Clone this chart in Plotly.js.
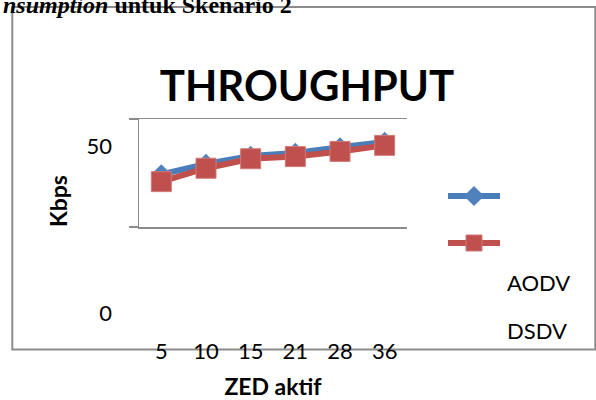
<!DOCTYPE html>
<html><head><meta charset="utf-8">
<script src="https://cdn.plot.ly/plotly-3.0.1.min.js"></script>
<style>html,body{margin:0;padding:0;background:#fff}#chart{width:596px;height:400px}</style>
</head><body><div id="chart"></div>
<script>
const categories = ['5', '10', '15', '21', '28', '36'];
const aodv = [24.4, 29.2, 32.9, 34.3, 36.9, 39.4];
const dsdv = [21.0, 27.2, 31.6, 32.6, 35.0, 37.8];
const seriesNames = ['AODV', 'DSDV'];
const yTickVals = [0, 50];
const yTickText = ['0', '50'];
const chartTitle = 'THROUGHPUT';
const xTitle = 'ZED aktif';
const yTitle = 'Kbps';
const captionItalic = 'nsumption';
const captionRest = ' untuk Skenario 2';

const W = 596, H = 400;
const px = v => v / W, py = v => 1 - v / H;
const BLUE = '#4A7EBB', BLUEF = '#4F81BD', RED = '#C0504D', REDL = '#D27A77', GRAY = '#8c8c8c';
const FONT = 'Lato, "Open Sans", sans-serif';

const blueLine = {color: BLUE, width: 6};
const blueMarker = {symbol: 'diamond', size: 15.5, color: BLUEF, line: {color: BLUEF, width: 0}};
const redLine = {color: RED, width: 6};
const redMarker = {symbol: 'square', size: 20, color: RED, line: {color: REDL, width: 1}};

const traces = [
  {type: 'scatter', mode: 'lines+markers', x: categories, y: aodv, name: seriesNames[0],
   line: blueLine, marker: blueMarker, showlegend: false, cliponaxis: false},
  {type: 'scatter', mode: 'lines+markers', x: categories, y: dsdv, name: seriesNames[1],
   line: redLine, marker: redMarker, showlegend: false, cliponaxis: false},
  {type: 'scatter', mode: 'lines+markers', x: [null], y: [null], name: ' ', legend: 'legend',
   line: blueLine, marker: blueMarker, showlegend: true, hoverinfo: 'skip'},
  {type: 'scatter', mode: 'lines+markers', x: [null], y: [null], name: ' ', legend: 'legend2',
   line: redLine, marker: redMarker, showlegend: true, hoverinfo: 'skip'},
  {type: 'scatter', mode: 'markers', x: [], y: [], yaxis: 'y2', showlegend: false, hoverinfo: 'skip'}
];

const legBase = {bgcolor: 'rgba(0,0,0,0)', borderwidth: 0, xanchor: 'left', yanchor: 'middle',
  itemwidth: 52, font: {family: FONT, size: 12}, itemclick: false, itemdoubleclick: false};

const layout = {
  width: W, height: H,
  margin: {l: 0, r: 0, t: 0, b: 0},
  paper_bgcolor: '#fff', plot_bgcolor: 'rgba(0,0,0,0)',
  font: {family: FONT, color: '#000'},
  title: {text: chartTitle, font: {family: FONT, size: 42, weight: 700, color: '#000'},
          x: px(307), xanchor: 'center', y: py(86), yanchor: 'middle', xref: 'paper', yref: 'paper'},
  xaxis: {type: 'category', domain: [px(139), px(407)], range: [-0.5, 5.5],
          showline: true, mirror: true, linecolor: GRAY, linewidth: 1.5,
          showgrid: false, zeroline: false, ticks: '',
          tickfont: {family: FONT, size: 22, color: '#000'}, ticklabelstandoff: 104,
          title: {text: xTitle, font: {family: FONT, size: 23, weight: 700, color: '#000'}, standoff: 24}},
  yaxis: {domain: [py(227), py(119)], range: [0, 50], tickvals: yTickVals,
          showline: true, linecolor: GRAY, linewidth: 1.5,
          ticks: 'outside', ticklen: 9, tickwidth: 1.5, tickcolor: GRAY,
          showticklabels: false, showgrid: false, zeroline: false},
  yaxis2: {domain: [py(313), py(89)], range: [0, 50 * (313 - 89) / (313 - 146)], anchor: 'free',
           position: px(112), side: 'left', tickvals: yTickVals, ticktext: yTickText,
           showgrid: false, zeroline: false, showline: false, ticks: '',
           tickfont: {family: FONT, size: 22, color: '#000'},
           title: {text: yTitle, font: {family: FONT, size: 23, weight: 700, color: '#000'}, standoff: 11}},
  legend: Object.assign({}, legBase, {x: px(443), y: py(196)}),
  legend2: Object.assign({}, legBase, {x: px(443), y: py(243)}),
  shapes: [
    {type: 'rect', xref: 'paper', yref: 'paper', x0: px(12.3), x1: px(595.3), y0: py(349.5), y1: py(7),
     line: {color: GRAY, width: 2}, fillcolor: 'rgba(0,0,0,0)', layer: 'below'}
  ],
  annotations: [
    {text: seriesNames[0], xref: 'paper', yref: 'paper', x: px(505), y: py(282), xanchor: 'left', yanchor: 'middle',
     showarrow: false, font: {family: FONT, size: 22, color: '#000'}},
    {text: seriesNames[1], xref: 'paper', yref: 'paper', x: px(505), y: py(330), xanchor: 'left', yanchor: 'middle',
     showarrow: false, font: {family: FONT, size: 22, color: '#000'}},
    {text: '<b><i>' + captionItalic + '</i>' + captionRest + '</b>', xref: 'paper', yref: 'paper',
     x: px(294), y: py(5), xanchor: 'right', yanchor: 'middle', showarrow: false,
     font: {family: '"Liberation Serif", "Times New Roman", serif', size: 24, color: '#000'}}
  ],
  showlegend: true
};

Plotly.newPlot('chart', traces, layout, {staticPlot: true, displayModeBar: false});
</script>
</body></html>
